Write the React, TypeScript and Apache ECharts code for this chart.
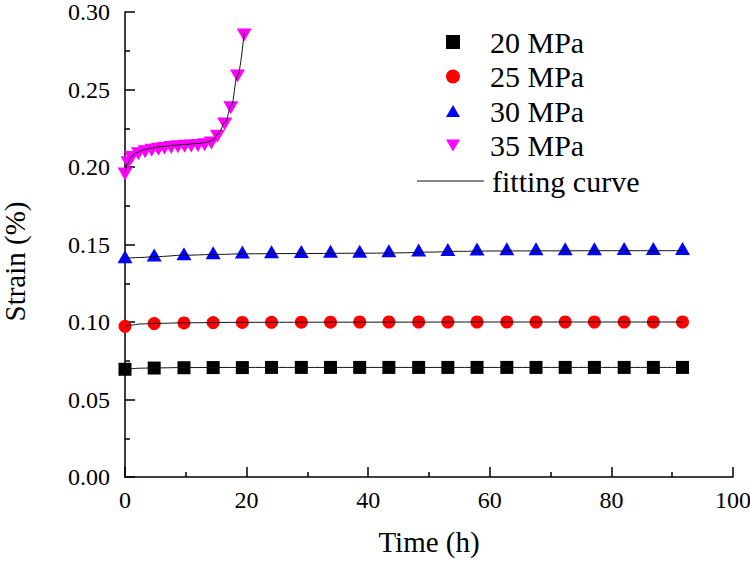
import React, { useEffect, useRef } from "react";
import * as echarts from "echarts";

// Sampling times (h) shared by the 20, 25 and 30 MPa tests
const times = [0, 4.8, 9.7, 14.5, 19.3, 24.1, 29.0, 33.8, 38.6, 43.4, 48.3, 53.1, 57.9, 62.8, 67.6, 72.4, 77.2, 82.1, 86.9, 91.7];

const strain20 = [0.0695, 0.0703, 0.0705, 0.0706, 0.0706, 0.0707, 0.0707, 0.0707, 0.0707, 0.0707, 0.0707, 0.0707, 0.0707, 0.0707, 0.0707, 0.0707, 0.0707, 0.0707, 0.0707, 0.0707];
const strain25 = [0.0972, 0.0990, 0.0994, 0.0996, 0.0997, 0.0998, 0.0999, 0.0999, 0.1000, 0.1000, 0.1000, 0.1000, 0.1000, 0.1000, 0.1000, 0.1000, 0.1000, 0.1000, 0.1000, 0.1000];
const strain30 = [0.1408, 0.1420, 0.1428, 0.1434, 0.1438, 0.1441, 0.1442, 0.1443, 0.1444, 0.1447, 0.1451, 0.1455, 0.1458, 0.1459, 0.1460, 0.1460, 0.1460, 0.1461, 0.1461, 0.1461];

// 35 MPa test (fails at about 20 h)
const times35 = [0, 0.5, 1.1, 2.2, 3.3, 4.4, 5.5, 6.5, 7.6, 8.7, 9.8, 10.9, 12.0, 13.1, 14.2, 15.2, 16.4, 17.4, 18.5, 19.6];
const strain35 = [0.1968, 0.2040, 0.2075, 0.2098, 0.2112, 0.2121, 0.2128, 0.2134, 0.2139, 0.2143, 0.2146, 0.2149, 0.2152, 0.2156, 0.2168, 0.2212, 0.2290, 0.2395, 0.2600, 0.2865];

// Fitted creep curves
const fit20T = [0, 1, 2.5, 5, 10, 20, 40, 60, 80, 91.7];
const fit20 = [0.0693, 0.0699, 0.0702, 0.0704, 0.0706, 0.0707, 0.0707, 0.0707, 0.0707, 0.0707];
const fit25T = [0, 1, 2.5, 5, 10, 20, 40, 60, 80, 91.7];
const fit25 = [0.0970, 0.0980, 0.0987, 0.0991, 0.0995, 0.0998, 0.0999, 0.1000, 0.1000, 0.1000];
const fit30T = [0, 2.5, 5, 10, 15, 20, 30, 40, 45, 50, 55, 60, 70, 80, 91.7];
const fit30 = [0.1411, 0.1416, 0.1422, 0.1431, 0.1436, 0.1440, 0.1442, 0.1444, 0.1446, 0.1451, 0.1456, 0.1458, 0.1459, 0.1460, 0.1460];
const fit35T = [0, 0.4, 1, 2, 3, 4, 6, 8, 10, 12, 13.5, 14.5, 15.3, 16.5, 17.5, 18.5, 19.6];
const fit35 = [0.1965, 0.2020, 0.2065, 0.2095, 0.2110, 0.2120, 0.2132, 0.2140, 0.2146, 0.2152, 0.2160, 0.2175, 0.2215, 0.2290, 0.2400, 0.2590, 0.2870];

const legendNames = ["20 MPa", "25 MPa", "30 MPa", "35 MPa"];
const fitName = "fitting curve";
const xTicks = { min: 0, max: 100, interval: 20 };
const yTicks = { min: 0, max: 0.3, interval: 0.05 };

const FONT = "'Liberation Serif', 'Times New Roman', serif";
const SQUARE = "path://M0,0 L10,0 L10,10 L0,10 Z";
const UP_TRIANGLE = "path://M7.5,0 L15,13 L0,13 Z";
const DOWN_TRIANGLE = "path://M0,0 L15,0 L7.5,13 Z";
const LEGEND_LINE = "path://M0,0 L67,0 L67,1 L0,1 Z";

const pairs = (xs: number[], ys: number[]) => xs.map((x, i) => [x, ys[i]]);

export default function App() {
  const ref = useRef<HTMLDivElement>(null);

  useEffect(() => {
    if (!ref.current) return;
    const chart = echarts.init(ref.current, null, { renderer: "svg" });

    const scatter = (
      name: string,
      ys: number[],
      xs: number[],
      color: string,
      symbol: string,
      size: number | number[],
      offset: number[] = [0, 0]
    ) => ({
      name,
      type: "scatter",
      data: pairs(xs, ys),
      symbol,
      symbolSize: size,
      symbolOffset: offset,
      itemStyle: { color, opacity: 1 },
      z: 2,
    });

    const fit = (xs: number[], ys: number[]) => ({
      name: fitName,
      type: "line",
      data: pairs(xs, ys),
      symbol: "none",
      smooth: 0.4,
      smoothMonotone: "x",
      lineStyle: { color: "#111", width: 1 },
      itemStyle: { color: "#111" },
      z: 3,
    });

    const legendText = { fontFamily: FONT, fontSize: 30, color: "#000", lineHeight: 30 };

    chart.setOption({
      animation: false,
      backgroundColor: "#fff",
      textStyle: { fontFamily: FONT },
      grid: { left: 125, right: 17, top: 12, bottom: 84, containLabel: false, outerBoundsMode: "none" },
      legend: [
        {
          data: [
            { name: legendNames[0], icon: SQUARE },
            { name: legendNames[1], icon: "circle" },
            { name: legendNames[2], icon: UP_TRIANGLE },
            { name: legendNames[3], icon: DOWN_TRIANGLE },
          ],
          orient: "vertical",
          left: 441,
          top: 22,
          itemWidth: 14,
          itemHeight: 14,
          itemGap: 4.5,
          symbolKeepAspect: true,
          textStyle: { ...legendText, padding: [0, 0, 0, 25] },
        },
        {
          data: [{ name: fitName, icon: LEGEND_LINE }],
          orient: "vertical",
          left: 412,
          top: 161,
          itemWidth: 67,
          itemHeight: 1,
          symbolKeepAspect: false,
          textStyle: { ...legendText, padding: [0, 0, 0, 3] },
        },
      ],
      xAxis: {
        type: "value",
        min: xTicks.min,
        max: xTicks.max,
        interval: xTicks.interval,
        name: "Time (h)",
        nameLocation: "middle",
        nameGap: 50,
        nameTextStyle: { fontFamily: FONT, fontSize: 29, color: "#000" },
        axisLine: { show: true, lineStyle: { color: "#000", width: 1.5 } },
        axisTick: { show: true, inside: true, length: 10, lineStyle: { color: "#000", width: 1.5 } },
        minorTick: { show: true, splitNumber: 2, length: 5, lineStyle: { color: "#000", width: 1.5 } },
        axisLabel: { fontFamily: FONT, fontSize: 24, color: "#000", margin: 11 },
        splitLine: { show: false },
      },
      yAxis: {
        type: "value",
        min: yTicks.min,
        max: yTicks.max,
        interval: yTicks.interval,
        name: "Strain (%)",
        nameLocation: "middle",
        nameGap: 96,
        nameTextStyle: { fontFamily: FONT, fontSize: 29, color: "#000", padding: [0, 34, 0, 0] },
        axisLine: { show: true, lineStyle: { color: "#000", width: 1.5 } },
        axisTick: { show: true, inside: true, length: 10, lineStyle: { color: "#000", width: 1.5 } },
        minorTick: { show: true, splitNumber: 2, length: 5, lineStyle: { color: "#000", width: 1.5 } },
        axisLabel: {
          fontFamily: FONT,
          fontSize: 24,
          color: "#000",
          margin: 15,
          formatter: (v: number) => v.toFixed(2),
        },
        splitLine: { show: false },
      },
      series: [
        scatter(legendNames[0], strain20, times, "#000000", SQUARE, 13),
        scatter(legendNames[1], strain25, times, "#ff0000", "circle", 13),
        scatter(legendNames[2], strain30, times, "#0000ff", UP_TRIANGLE, [15, 13], [0, -2]),
        scatter(legendNames[3], strain35, times35, "#ff00ff", DOWN_TRIANGLE, [15, 13], [0, 2]),
        fit(fit20T, fit20),
        fit(fit25T, fit25),
        fit(fit30T, fit30),
        fit(fit35T, fit35),
      ],
    });

    return () => chart.dispose();
  }, []);

  return (
    <div
      ref={ref}
      style={{ position: "fixed", left: 0, top: 0, width: 750, height: 561, background: "#fff" }}
    />
  );
}
